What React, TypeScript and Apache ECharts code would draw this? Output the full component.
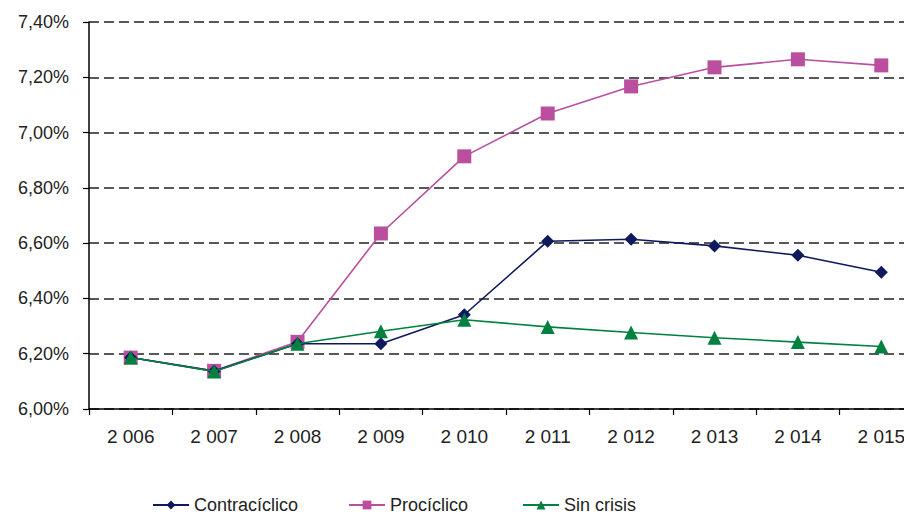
import React, { useEffect, useRef } from "react";
import * as echarts from "echarts";

const years = ["2 006", "2 007", "2 008", "2 009", "2 010", "2 011", "2 012", "2 013", "2 014", "2 015"];
const contraciclico = [6.186, 6.137, 6.236, 6.236, 6.341, 6.607, 6.614, 6.59, 6.556, 6.495];
const prociclico = [6.186, 6.138, 6.243, 6.635, 6.914, 7.069, 7.167, 7.236, 7.265, 7.243];
const sinCrisis = [6.186, 6.136, 6.236, 6.281, 6.323, 6.297, 6.277, 6.258, 6.242, 6.226];
const seriesNames = ["Contracíclico", "Procíclico", "Sin crisis"];
const colors = ["#0E1A5C", "#BA4F9F", "#00813F"];

export default function App() {
  const ref = useRef<HTMLDivElement>(null);
  useEffect(() => {
    if (!ref.current) return;
    const chart = echarts.init(ref.current, null, { renderer: "svg" });
    const font = "Liberation Sans, Arial, sans-serif";
    const legendLefts = [147, 343, 517];
    chart.setOption({
      animation: false,
      textStyle: { fontFamily: font },
      grid: { left: 89, right: -11, top: 22, bottom: 110, containLabel: false, outerBoundsMode: "none" },
      legend: seriesNames.map((n, i) => ({
        data: [n],
        left: legendLefts[i],
        top: 491,
        itemWidth: 36,
        itemHeight: 11,
        itemGap: 4,
        textStyle: { fontSize: 18, color: "#222", fontFamily: font },
      })),
      xAxis: {
        type: "category",
        data: years,
        boundaryGap: true,
        axisLine: { lineStyle: { color: "#000", width: 1.5 } },
        axisTick: { show: true, length: 6, lineStyle: { color: "#000", width: 1.2 } },
        axisLabel: { fontSize: 19, color: "#222", margin: 18, fontFamily: font },
        splitLine: { show: false },
      },
      yAxis: {
        type: "value",
        min: 6.0,
        max: 7.4,
        interval: 0.2,
        axisLine: { show: true, lineStyle: { color: "#000", width: 1.5 } },
        axisTick: { show: true, length: 6, lineStyle: { color: "#000", width: 1.2 } },
        axisLabel: {
          fontSize: 18,
          color: "#222",
          margin: 20,
          fontFamily: font,
          formatter: (v: number) => v.toFixed(2).replace(".", ",") + "%",
        },
        splitLine: { show: true, lineStyle: { color: "#222", width: 1.5, type: [10, 5] } },
      },
      series: [
        {
          name: seriesNames[0],
          type: "line",
          data: contraciclico,
          symbol: "diamond",
          symbolSize: 13,
          lineStyle: { color: colors[0], width: 1.6 },
          itemStyle: { color: colors[0] },
          z: 3,
        },
        {
          name: seriesNames[1],
          type: "line",
          data: prociclico,
          symbol: "rect",
          symbolSize: 14,
          lineStyle: { color: colors[1], width: 1.6 },
          itemStyle: { color: colors[1] },
          z: 2,
        },
        {
          name: seriesNames[2],
          type: "line",
          data: sinCrisis,
          symbol: "triangle",
          symbolSize: 14,
          lineStyle: { color: colors[2], width: 1.6 },
          itemStyle: { color: colors[2] },
          z: 4,
        },
      ],
    });
    return () => chart.dispose();
  }, []);
  return <div ref={ref} style={{ width: 912, height: 519, margin: -8 }} />;
}
